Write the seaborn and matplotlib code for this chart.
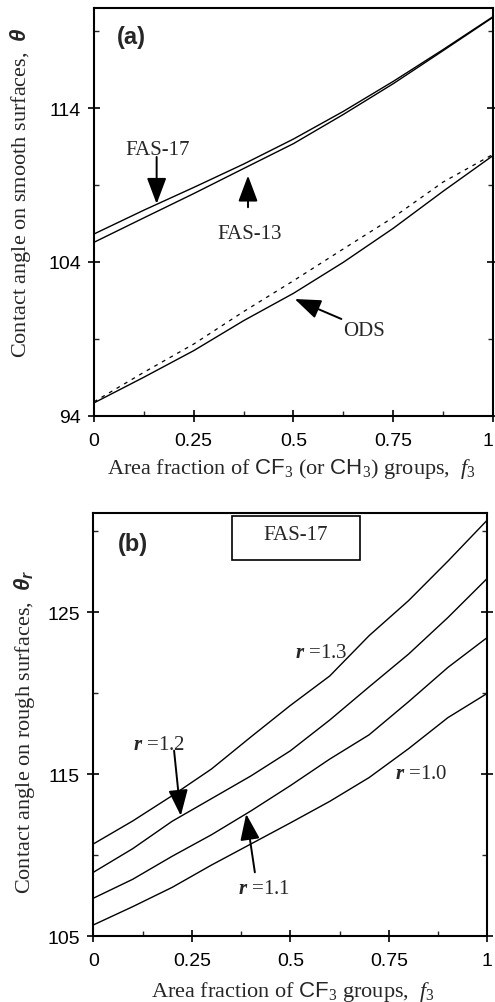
import pandas as pd
import seaborn as sns
import matplotlib.pyplot as plt
from matplotlib.patches import Rectangle

# (a) smooth surfaces
f_a = [0, 0.125, 0.25, 0.375, 0.5, 0.625, 0.75, 0.875, 1.0]
fas17 = [105.82, 107.37, 108.85, 110.37, 112.0, 113.8, 115.75, 117.82, 119.96]
fas13 = [105.28, 106.87, 108.45, 110.08, 111.7, 113.6, 115.6, 117.75, 119.92]
ods = [94.83, 96.5, 98.23, 100.18, 101.96, 103.98, 106.19, 108.6, 110.92]
ods_dash = [94.9, 96.82, 98.66, 100.77, 102.78, 104.85, 106.9, 109.2, 111.0]

# (b) rough surfaces, FAS-17
f_b = [0, 0.1, 0.2, 0.3, 0.4, 0.5, 0.6, 0.7, 0.8, 0.9, 1.0]
r_vals = ["1.0", "1.1", "1.2", "1.3"]
r10 = [105.70, 106.83, 108.02, 109.40, 110.70, 112.0, 113.33, 114.80, 116.58, 118.50, 120.0]
r11 = [107.35, 108.52, 109.94, 111.27, 112.74, 114.3, 115.94, 117.44, 119.48, 121.6, 123.45]
r12 = [108.95, 110.41, 112.1, 113.5, 114.9, 116.45, 118.35, 120.4, 122.42, 124.68, 127.1]
r13 = [110.70, 112.12, 113.68, 115.33, 117.31, 119.25, 121.07, 123.56, 125.72, 128.16, 130.7]

df_b = pd.concat([pd.DataFrame({"f": f_b, "theta": v, "r": r})
                  for r, v in zip(r_vals, [r10, r11, r12, r13])])

sns.set_style("ticks")
plt.rcParams['font.family'] = ['Liberation Serif', 'DejaVu Serif']
plt.rcParams['mathtext.fontset'] = 'custom'
plt.rcParams['mathtext.rm'] = 'Liberation Serif'
plt.rcParams['mathtext.it'] = 'Liberation Serif:italic'
plt.rcParams['mathtext.bf'] = 'Liberation Serif:italic:bold'
plt.rcParams['mathtext.sf'] = 'Liberation Sans'
plt.rcParams['mathtext.tt'] = 'Liberation Sans:italic:bold'

fig = plt.figure(figsize=(4.95, 10.03), dpi=100)
ax1 = fig.add_axes([0.1899, 0.5846, 0.806, 0.4065])
ax2 = fig.add_axes([0.1885, 0.0655, 0.796, 0.422])

sns.lineplot(x=f_a, y=fas17, ax=ax1, color='k', lw=1.0)
sns.lineplot(x=f_a, y=fas13, ax=ax1, color='k', lw=1.0)
sns.lineplot(x=f_a, y=ods, ax=ax1, color='k', lw=1.0)
sns.lineplot(x=f_a, y=ods_dash, ax=ax1, color='k', lw=0.9, linestyle=(0, (3, 4)))

sns.lineplot(data=df_b, x="f", y="theta", units="r", estimator=None,
             color='k', lw=1.0, ax=ax2)


def style_axis(ax, ylim, major_y, minor_y):
    ax.set_xlim(0, 1)
    ax.set_ylim(*ylim)
    ax.set_xticks([0, 0.25, 0.5, 0.75, 1])
    ax.set_xticklabels(['0', '0.25', '0.5', '0.75', '1'])
    ax.set_xticks([0.125, 0.375, 0.625, 0.875], minor=True)
    ax.set_yticks(major_y)
    ax.set_yticks(minor_y, minor=True)
    ax.tick_params(which='major', direction='inout', length=9, width=1.2,
                   right=True, labelsize=14, labelfontfamily='Liberation Sans',
                   colors='k')
    ax.tick_params(axis='y', which='major', pad=5)
    ax.tick_params(axis='x', which='major', pad=7)
    ax.tick_params(which='minor', direction='in', length=3.5, width=1.0, right=True)
    for s in ax.spines.values():
        s.set_linewidth(1.5)
        s.set_color('k')


style_axis(ax1, (94, 120.53), [94, 104, 114], [99, 109, 119])
style_axis(ax2, (105, 131.13), [105, 115, 125], [110, 120, 130])
# last "1" sits right at the figure edge in panel (a)
ax1.get_xticklabels()[-1].set_horizontalalignment('right')

ax1.set_xlabel(r"Area fraction of $\mathsf{CF}_3$ (or $\mathsf{CH}_3$) groups,  $\mathit{f}_3$",
               fontsize=16)
ax1.set_ylabel(r"Contact angle on smooth surfaces,  $\mathtt{\theta}$", fontsize=16)
ax2.set_xlabel(r"Area fraction of $\mathsf{CF}_3$ groups,  $\mathit{f}_3$", fontsize=16)
ax2.set_ylabel(r"Contact angle on rough surfaces,  $\mathtt{\theta_r}$", fontsize=16)
ax1.xaxis.set_label_coords(0.494, -0.099)
ax2.xaxis.set_label_coords(0.506, -0.101)
ax1.yaxis.set_label_coords(-0.153, 0.549)
ax2.yaxis.set_label_coords(-0.143, 0.485)

arrow = dict(arrowstyle='-|>,head_length=0.8,head_width=0.3', color='k', lw=1.4,
             shrinkA=0, shrinkB=0, mutation_scale=20)

# panel (a) annotations
ax1.text(0.093, 0.931, "(a)", transform=ax1.transAxes, ha='center', va='center',
         fontsize=17, fontweight='bold', family='Liberation Sans')
ax1.text(0.159, 111.35, "FAS-17", ha='center', va='center', fontsize=15)
ax1.annotate("", xy=(0.157, 107.78), xytext=(0.157, 110.83), arrowprops=arrow)
ax1.text(0.39, 105.82, "FAS-13", ha='center', va='center', fontsize=15)
ax1.annotate("", xy=(0.386, 109.62), xytext=(0.386, 107.56), arrowprops=arrow)
ax1.text(0.676, 99.53, "ODS", ha='center', va='center', fontsize=15)
ax1.annotate("", xy=(0.503, 101.59), xytext=(0.62, 100.29), arrowprops=arrow)

# panel (b) annotations
ax2.text(0.101, 0.927, "(b)", transform=ax2.transAxes, ha='center', va='center',
         fontsize=17, fontweight='bold', family='Liberation Sans')
ax2.add_patch(Rectangle((0.351, 0.890), 0.326, 0.102, transform=ax2.transAxes,
                        fill=False, ec='k', lw=1.2))
ax2.text(0.5145, 0.950, "FAS-17", transform=ax2.transAxes, ha='center', va='center',
         fontsize=15)
ax2.text(0.512, 122.55, r"$\mathbf{r}$ =1.3", ha='left', va='center', fontsize=15)
ax2.text(0.101, 116.84, r"$\mathbf{r}$ =1.2", ha='left', va='center', fontsize=15)
ax2.annotate("", xy=(0.222, 112.44), xytext=(0.205, 116.46), arrowprops=arrow)
ax2.text(0.367, 107.98, r"$\mathbf{r}$ =1.1", ha='left', va='center', fontsize=15)
ax2.annotate("", xy=(0.388, 112.55), xytext=(0.41, 108.95), arrowprops=arrow)
ax2.text(0.766, 115.08, r"$\mathbf{r}$ =1.0", ha='left', va='center', fontsize=15)

fig.savefig("out.png", dpi=100)
